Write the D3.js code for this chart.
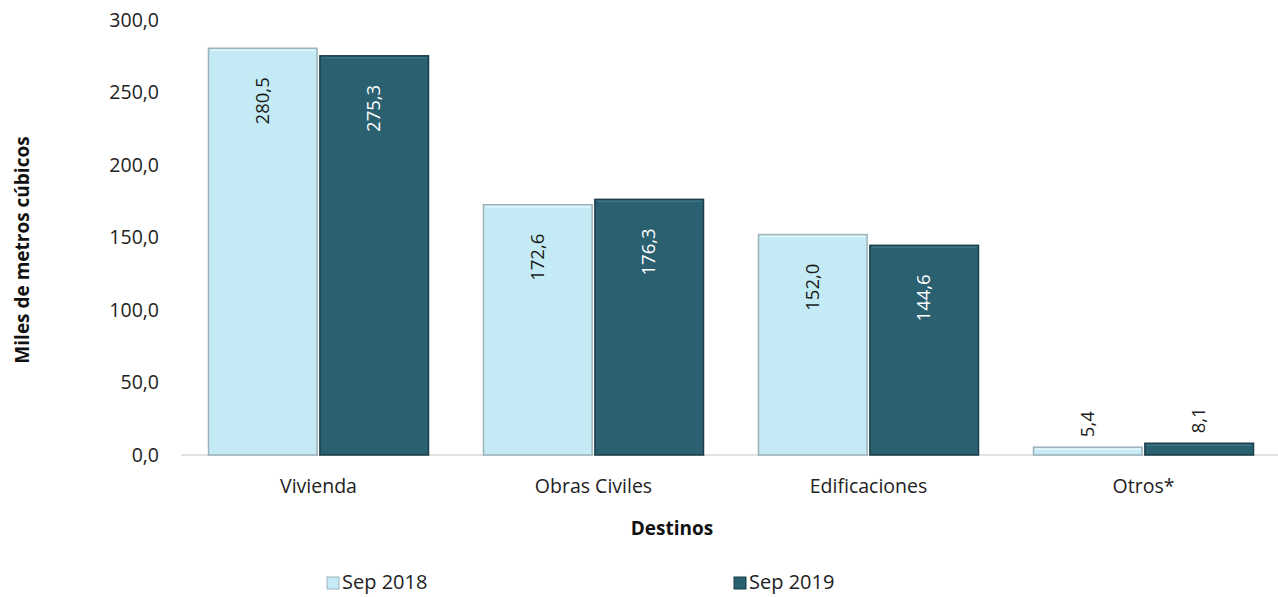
<!DOCTYPE html>
<html>
<head>
<meta charset="utf-8">
<script src="https://cdn.jsdelivr.net/npm/d3@7"></script>
<style>
  body { margin: 0; background: #fff; }
  svg { display: block; font-family: "Open Sans", "Noto Sans", sans-serif; }
</style>
</head>
<body>
<svg id="chart" width="1278" height="597"></svg>
<script>
// --- Data ---
const categories = ["Vivienda", "Obras Civiles", "Edificaciones", "Otros*"];
const seriesNames = ["Sep 2018", "Sep 2019"];
const sep2018 = [280.5, 172.6, 152.0, 5.4];
const sep2019 = [275.3, 176.3, 144.6, 8.1];
const yTicks = [0, 50, 100, 150, 200, 250, 300];

const seriesValues = [sep2018, sep2019];
const fills = ["#c4ebf5", "#2a6070"];
const strokes = ["#9db2ba", "#1b3e48"];
const labelColors = ["#1a1a1a", "#ffffff"];

const svg = d3.select("#chart");
const fmt = v => d3.format(".1f")(v).replace(".", ",");

// --- Scales ---
const x0 = d3.scaleBand().domain(categories).range([181, 1281]).padding(0);
const x1 = d3.scaleBand().domain(seriesNames)
  .range([27.5, x0.bandwidth() - 27.5]).paddingInner(0.025);
const y = d3.scaleLinear().domain([0, 300]).range([455, 20]);

// Y axis (labels only)
const yAxisG = svg.append("g")
  .attr("transform", "translate(181,0)")
  .call(d3.axisLeft(y).tickValues(yTicks).tickSize(0).tickPadding(22).tickFormat(fmt));
yAxisG.select(".domain").remove();
yAxisG.selectAll("text")
  .attr("fill", "#222")
  .style("font-size", "19.5px")
  .style("font-family", "'Open Sans', sans-serif");

// Baseline
svg.append("line")
  .attr("x1", 181).attr("x2", 1278)
  .attr("y1", y(0)).attr("y2", y(0))
  .attr("stroke", "#d9d9d9").attr("stroke-width", 1.5);

// --- Bars ---
const rows = categories.map((c, i) => ({
  cat: c,
  vals: seriesNames.map((s, j) => ({ s, j, v: seriesValues[j][i] }))
}));

const groups = svg.selectAll(".grp").data(rows).enter()
  .append("g")
  .attr("class", "grp")
  .attr("transform", d => `translate(${x0(d.cat)},0)`);

groups.selectAll("rect.bar").data(d => d.vals).enter()
  .append("rect")
  .attr("class", "bar")
  .attr("x", d => x1(d.s))
  .attr("y", d => y(d.v))
  .attr("width", x1.bandwidth())
  .attr("height", d => y(0) - y(d.v))
  .attr("fill", d => fills[d.j])
  .attr("stroke", d => strokes[d.j])
  .attr("stroke-width", 1.5);

// soft highlight along top edge
groups.selectAll("line.hl").data(d => d.vals).enter()
  .append("line")
  .attr("class", "hl")
  .attr("x1", d => x1(d.s) + 2).attr("x2", d => x1(d.s) + x1.bandwidth() - 2)
  .attr("y1", d => y(d.v) + 2).attr("y2", d => y(d.v) + 2)
  .attr("stroke", d => d.j === 0 ? "#e4f8fc" : "#3d7484")
  .attr("stroke-width", 1.5);

// Value labels (rotated)
const isInside = d => (y(0) - y(d.v)) > 80;
groups.selectAll("text.val").data(d => d.vals).enter()
  .append("text")
  .attr("class", "val")
  .attr("transform", d => {
    const cx = x1(d.s) + x1.bandwidth() / 2;
    const yy = isInside(d) ? y(d.v) + 29 : y(d.v) - 10;
    return `translate(${cx + 6},${yy}) rotate(-90)`;
  })
  .attr("text-anchor", d => isInside(d) ? "end" : "start")
  .attr("fill", d => isInside(d) ? labelColors[d.j] : "#1a1a1a")
  .style("font-size", "18.5px")
  .text(d => fmt(d.v));

// Category labels
svg.selectAll(".cat").data(categories).enter()
  .append("text")
  .attr("class", "cat")
  .attr("x", d => x0(d) + x0.bandwidth() / 2)
  .attr("y", 493)
  .attr("text-anchor", "middle")
  .attr("fill", "#222")
  .style("font-size", "19.5px")
  .text(d => d);

// Axis titles
svg.append("text")
  .attr("x", 672).attr("y", 535)
  .attr("text-anchor", "middle")
  .attr("fill", "#111")
  .style("font-size", "19px").style("font-weight", "bold")
  .text("Destinos");

svg.append("text")
  .attr("transform", "translate(29,250) rotate(-90)")
  .attr("text-anchor", "middle")
  .attr("fill", "#111")
  .style("font-size", "19px").style("font-weight", "bold")
  .text("Miles de metros cúbicos");

// Legend
const legendX = [327, 734];
const lg = svg.selectAll(".lg").data(seriesNames).enter()
  .append("g")
  .attr("class", "lg")
  .attr("transform", (d, i) => `translate(${legendX[i]},577)`);
lg.append("rect")
  .attr("width", 12).attr("height", 12)
  .attr("fill", (d, i) => fills[i])
  .attr("stroke", (d, i) => strokes[i]);
lg.append("text")
  .attr("x", 15).attr("y", 12)
  .attr("fill", "#222")
  .style("font-size", "20px")
  .text(d => d);
</script>
</body>
</html>
